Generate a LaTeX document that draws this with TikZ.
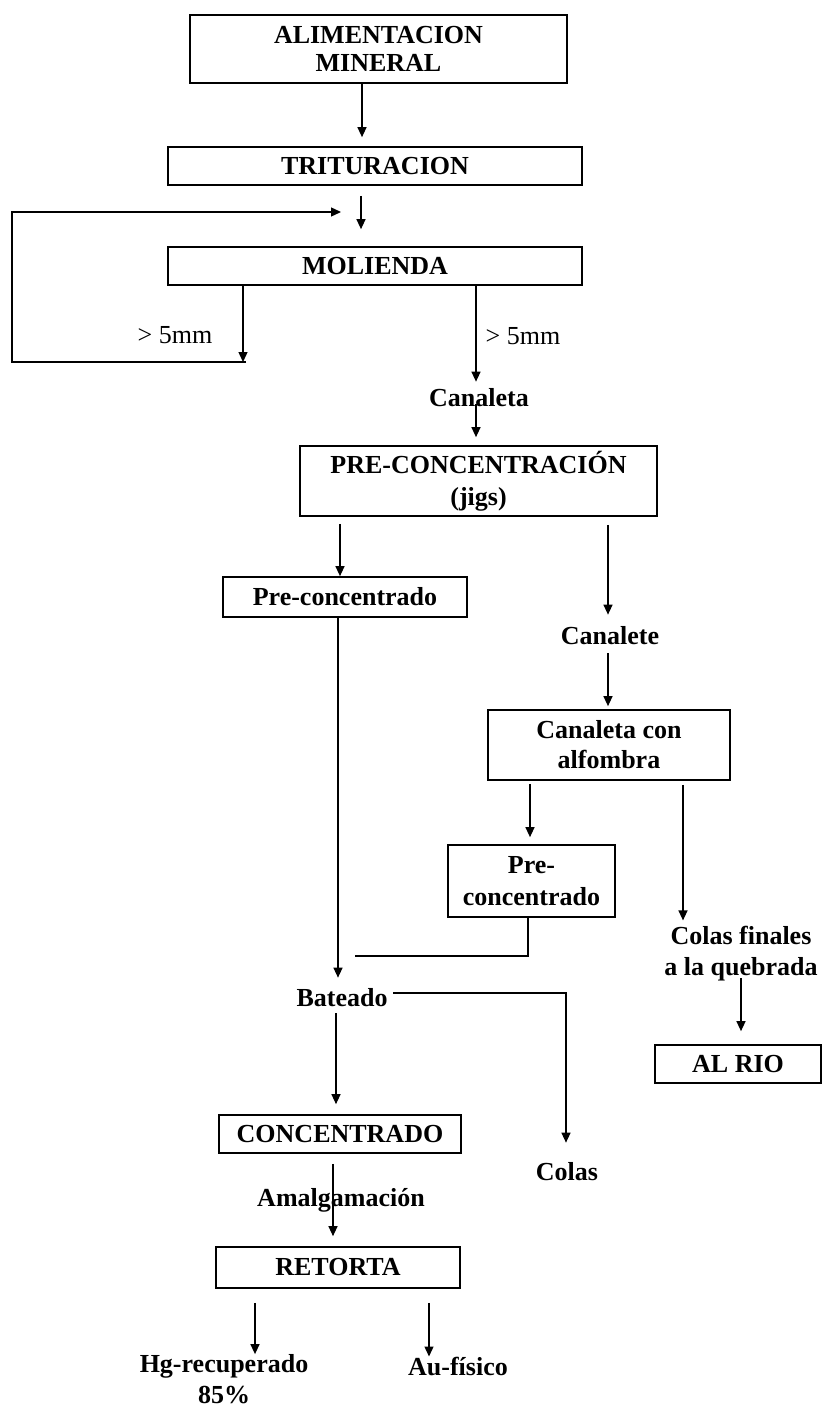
\documentclass[tikz,border=0pt]{standalone}
\usepackage{fontspec}
\setmainfont{Liberation Serif}
\usetikzlibrary{arrows.meta}
\begin{document}
\begin{tikzpicture}[x=1pt,y=-1pt,
  box/.style={draw, line width=1.7pt, rectangle, inner sep=0pt, align=center, font=\bfseries\fontsize{26}{28}\selectfont},
  lbl/.style={inner sep=0pt, align=center, font=\bfseries\fontsize{26}{31}\selectfont},
  reg/.style={inner sep=0pt, font=\fontsize{26}{31}\selectfont},
  arr/.style={line width=1.3pt, -{Triangle[length=10pt,width=9pt]}},
  ln/.style={line width=1.3pt}]
\useasboundingbox (0,0) rectangle (822,1411);

% nodes
\node[box, minimum width=377pt, minimum height=68pt] (alim) at (378.5,49) {ALIMENTACION\\MINERAL};
\node[box, minimum width=414pt, minimum height=38pt] (trit) at (375,166) {TRITURACION};
\node[box, minimum width=414pt, minimum height=38pt] (mol) at (375,266) {MOLIENDA};
\node[reg] (g1) at (175,335) {> 5mm};
\node[reg] (g2) at (523,336) {> 5mm};
\node[lbl] (can) at (479,398) {Canaleta};
\node[box, minimum width=357pt, minimum height=70pt, font=\bfseries\fontsize{26}{32}\selectfont] (pre) at (478.5,481) {PRE-CONCENTRACIÓN\\(jigs)};
\node[box, minimum width=244pt, minimum height=40pt] (pc1) at (345,597) {Pre-concentrado};
\node[lbl] (cte) at (610,636) {Canalete};
\node[box, minimum width=242pt, minimum height=70pt, font=\bfseries\fontsize{26}{30}\selectfont] (cca) at (609,745) {Canaleta con\\alfombra};
\node[box, minimum width=167pt, minimum height=72pt, font=\bfseries\fontsize{26}{32}\selectfont] (pc2) at (531.5,881) {Pre-\\concentrado};
\node[lbl] (colf) at (741,954) {Colas finales\\a la quebrada};
\node[box, minimum width=166pt, minimum height=38pt] (rio) at (738,1064) {AL RIO};
\node[lbl] (bat) at (342,998) {Bateado};
\node[lbl] (colas) at (567,1172) {Colas};
\node[box, minimum width=242pt, minimum height=38pt] (conc) at (340,1134) {CONCENTRADO};
\node[lbl] (amal) at (341,1200) {Amalgamación};
\node[box, minimum width=244pt, minimum height=41pt] (ret) at (338,1267.5) {RETORTA};
\node[lbl, font=\bfseries\fontsize{26}{31}\selectfont] (hg) at (224,1379) {Hg-recuperado\\85\%};
\node[lbl] (au) at (458,1366) {Au-físico};

% helper coordinates
\coordinate (fbA) at (243,362);
\coordinate (fbB) at (246,362);
\coordinate (fbC) at (12,362);
\coordinate (fbD) at (12,212);
\coordinate (fbE) at (341,212);
\coordinate (canb) at (476,404);
\coordinate (j0) at (528,956);
\coordinate (j1) at (355,956);
\coordinate (qb) at (741,978);
\coordinate (b0) at (393,993);
\coordinate (b1) at (566,993);

% connectors
\draw[arr, shorten >=9pt] (alim.south -| 362,0) -- (trit.north -| 362,0);
\draw[arr, shorten <=10pt, shorten >=17pt] (trit.south -| 361,0) -- (mol.north -| 361,0);
\draw[arr] (mol.south -| fbA) -- (fbA);
\draw[arr] (fbB) -- (fbC) -- (fbD) -- (fbE);
\draw[arr, shorten >=7pt] (mol.south -| 476,0) -- (can.north -| 476,0);
\draw[arr, shorten >=8pt] (canb) -- (pre.north -| canb);
\draw[arr, shorten <=7pt] (pre.south -| 340,0) -- (pc1.north -| 340,0);
\draw[arr, shorten <=8pt, shorten >=12pt] (pre.south -| 608,0) -- (cte.north -| 608,0);
\draw[arr, shorten <=8pt, shorten >=3pt] (cte.south -| 608,0) -- (cca.north -| 608,0);
\draw[arr, shorten >=11pt] (pc1.south -| 338,0) -- (bat.north -| 338,0);
\draw[ln] (pc2.south -| j0) -- (j0) -- (j1);
\draw[arr, shorten <=3pt, shorten >=7pt] (cca.south -| 530,0) -- (pc2.north -| 530,0);
\draw[arr, shorten <=4pt, shorten >=6pt] (cca.south -| 683,0) -- (colf.north -| 683,0);
\draw[arr, shorten >=13pt] (qb) -- (rio.north -| qb);
\draw[arr, shorten >=20pt] (b0) -- (b1) -- (colas.north -| b1);
\draw[arr, shorten <=6pt, shorten >=10pt] (bat.south -| 336,0) -- (conc.north -| 336,0);
\draw[arr, shorten <=10pt, shorten >=10pt] (conc.south -| 333,0) -- (ret.north -| 333,0);
\draw[arr, shorten <=14pt] (ret.south -| 255,0) -- (hg.north -| 255,0);
\draw[arr, shorten <=14pt] (ret.south -| 429,0) -- (au.north -| 429,0);
\end{tikzpicture}
\end{document}
